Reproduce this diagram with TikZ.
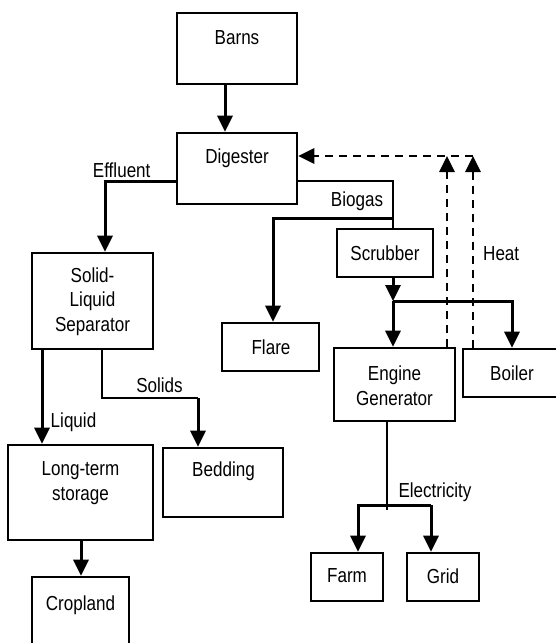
\documentclass[tikz,border=0pt]{standalone}
\usepackage{fontspec}
\setmainfont{Liberation Sans}[FakeStretch=0.84]
\usetikzlibrary{arrows.meta}
\begin{document}
\begin{tikzpicture}[x=1pt,y=-1pt,
  box/.style={draw, line width=2.6pt, rectangle, inner sep=0pt},
  lbl/.style={anchor=base, inner sep=0pt, font=\fontsize{20.3}{24}\selectfont},
  conn/.style={line width=2.3pt},
  arr/.style={line width=3pt, -{Triangle[width=15pt,length=16pt]}},
  darr/.style={line width=2.8pt, dash pattern=on 8pt off 6pt, -{Triangle[width=15pt,length=16pt]}}]
\useasboundingbox (0,0) rectangle (555,643);

% boxes
\node[box, minimum width=120pt, minimum height=71pt] (barns) at (237,48.5) {};
\node[box, minimum width=120pt, minimum height=71pt] (digester) at (237,168.5) {};
\node[box, minimum width=121pt, minimum height=96pt] (sep) at (92.5,301) {};
\node[box, minimum width=96pt, minimum height=48pt] (scrub) at (385,253) {};
\node[box, minimum width=97pt, minimum height=48pt] (flare) at (270.5,347) {};
\node[box, minimum width=121pt, minimum height=73pt] (engine) at (394.5,384.5) {};
\node[box, minimum width=97pt, minimum height=48pt] (boiler) at (511.5,373) {};
\node[box, minimum width=145pt, minimum height=95pt] (store) at (80.5,492.5) {};
\node[box, minimum width=120pt, minimum height=69pt] (bed) at (223,482.5) {};
\node[box, minimum width=97pt, minimum height=73pt] (crop) at (80.5,613.5) {};
\node[box, minimum width=72pt, minimum height=48pt] (farm) at (347,577) {};
\node[box, minimum width=72pt, minimum height=48pt] (grid) at (443,577) {};

% texts
\node[lbl] (tbarns) at (237,44) {Barns};
\node[lbl] (tdig) at (237,163) {Digester};
\node[lbl] (teff) at (121.7,177) {Effluent};
\node[lbl] (tbio) at (357,206) {Biogas};
\node[lbl] (tsep1) at (92.5,282) {Solid-};
\node[lbl] (tsep2) at (92.5,306) {Liquid};
\node[lbl] (tsep3) at (92.5,331) {Separator};
\node[lbl] (tscrub) at (385,260) {Scrubber};
\node[lbl, anchor=base west] (theat) at (483,260) {Heat};
\node[lbl] (tflare) at (271,354) {Flare};
\node[lbl] (teng1) at (394.5,380) {Engine};
\node[lbl] (teng2) at (394.5,405) {Generator};
\node[lbl] (tboil) at (512,380) {Boiler};
\node[lbl] (tsolids) at (159.5,392) {Solids};
\node[lbl] (tliq) at (73.5,427) {Liquid};
\node[lbl] (tst1) at (80.5,475) {Long-term};
\node[lbl] (tst2) at (80.5,500) {storage};
\node[lbl] (tbed) at (223.5,476) {Bedding};
\node[lbl] (tcrop) at (80.5,610) {Cropland};
\node[lbl] (telec) at (435,497) {Electricity};
\node[lbl] (tfarm) at (347,582) {Farm};
\node[lbl] (tgrid) at (443,583) {Grid};

% coordinates
\coordinate (e1) at (105,181);
\coordinate (b1) at (393,181);
\coordinate (b2) at (393,218);
\coordinate (fl) at (273,218);
\coordinate (s1) at (393,301);
\coordinate (s2) at (512,301);
\coordinate (lx) at (42,349);
\coordinate (so1) at (102,398);
\coordinate (so2) at (198,398);
\coordinate (el0) at (387,510);
\coordinate (el1) at (358,505);
\coordinate (el2) at (431,505);
\coordinate (h1) at (447,156);
\coordinate (h2) at (473,156);

% connectors
\draw[arr] ([xshift=-12pt]barns.south) -- ([xshift=-12pt]digester.north);
\draw[arr] (digester.west |- e1) -- (e1) -- (e1 |- sep.north);
\draw[conn] (digester.east |- b1) -- (b1) -- (b2) -- (b2 |- scrub.north);
\draw[arr] (b2) -- (fl) -- (fl |- flare.north);
\draw[arr] (scrub.south -| s1) -- (s1);
\draw[arr] (s1) -- (s1 |- engine.north);
\draw[arr] (s1) -- (s2) -- (s2 |- boiler.north);
\draw[arr] (lx) -- (lx |- store.north);
\draw[conn] (sep.south -| so1) -- (so1) -- (so2);
\draw[arr] (so2) -- (so2 |- bed.north);
\draw[arr] ([xshift=0.5pt]store.south) -- ([xshift=0.5pt]crop.north);
\draw[conn] (engine.south -| el0) -- (el0);
\draw[arr] (el2) -- (el1) -- (el1 |- farm.north);
\draw[arr] (el2) -- (el2 |- grid.north);
\draw[darr] (engine.north -| h1) -- (h1);
\draw[darr] (boiler.north -| h2) -- (h2);
\draw[darr] (h2) -- (h2 -| digester.east);
\end{tikzpicture}
\end{document}
